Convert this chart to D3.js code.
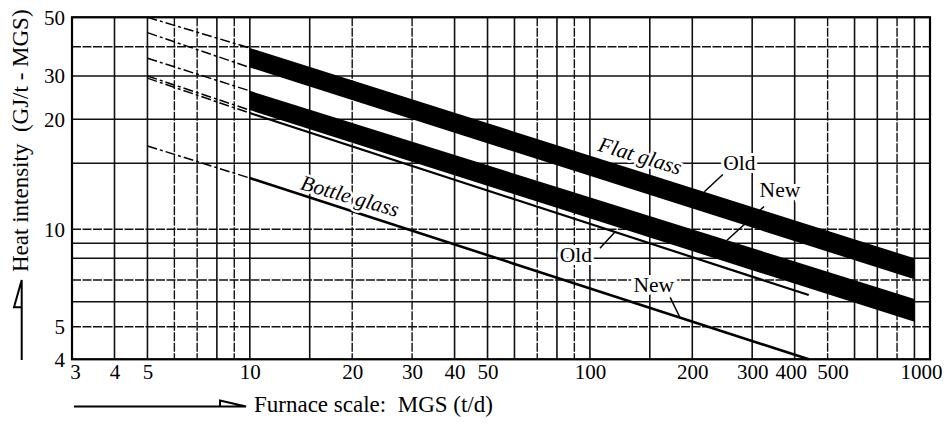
<!DOCTYPE html>
<html>
<head>
<meta charset="utf-8">
<script src="https://cdn.jsdelivr.net/npm/d3@7"></script>
<style>
  html, body { margin: 0; padding: 0; background: #fff; }
  svg text { font-family: "Liberation Serif", "Times New Roman", serif; fill: #000; }
</style>
</head>
<body>
<svg id="chart" width="950" height="424"></svg>
<script>
// ---- axis rules and labels ----
const xGrid  = [4, 5, 6, 7, 8, 9, 10, 15, 20, 30, 40, 50, 60, 70, 80, 90, 100, 150, 200, 300, 400, 500, 600, 700, 800, 900, 1000];
const xTicks = [3, 4, 5, 10, 20, 30, 40, 50, 100, 200, 300, 400, 500, 1000];
const yGrid  = [50, 40, 30, 20, 15, 10, 9, 8, 7, 6, 5, 4];
const yTicks = [50, 30, 20, 10, 5, 4];
// rules that are printed as broken lines
const xBroken = [6, 7, 9, 20, 30, 70, 90, 500, 800];
const yBroken = [40, 10, 7, 5];
// small sideways shifts of crowded tick labels (px)
const xTickShift = { 3: 3, 400: -4, 500: 5, 1000: -9 };

// ---- curves: [MGS t/d, GJ/t-MGS] at 5 t/d, 10 t/d and the end of the curve ----
const flatOldUpper = [[5, 50],   [10, 39.5], [900, 8.0]];
const flatOldLower = [[5, 44.5], [10, 32.6], [900, 7.03]];
const flatNewUpper = [[5, 35.7], [10, 26.1], [900, 6.12]];
const flatNewLower = [[5, 30],   [10, 21.8], [900, 5.18]];
const bottleOld    = [[5, 29.4], [10, 21.2], [440, 6.29]];
const bottleNew    = [[5, 16.8], [10, 13.7], [440, 4.0]];

// ---- annotation labels (text centre, leader start, leader end on a curve) ----
const leaderLabels = [
  { text: "Old", at: [275, 15],   from: [246, 14],   toX: 217,   curve: flatOldUpper },
  { text: "New", at: [362, 12.7], from: [325, 11.5], toX: 253,   curve: flatNewUpper },
  { text: "Old", at: [91, 8.2],   from: [107, 8.65], toX: 118.5, curve: bottleOld },
  { text: "New", at: [154, 6.76], from: [172, 6.2],  toX: 184,   curve: bottleNew }
];
const curveLabels = [
  { text: "Flat glass",   at: [105, 16.3], angle: 16.5 },
  { text: "Bottle glass", at: [14, 12.8],  angle: 16 }
];

// ---- scales ----
const svg = d3.select("#chart");
const x = d3.scaleLog().domain([3, 1000]).range([72, 930]);
// the printed value axis is not evenly divided, so the log scale is pinned at every rule
const y = d3.scaleLog()
  .domain(yGrid)
  .range([17.3, 46.7, 76, 119.3, 163.3, 229.3, 243.3, 258.3, 280, 301.7, 326.7, 359.3]);

const x0 = x(3), x1 = x(1000), yTop = y(50), yBot = y(4);
const fs = 21;

// ---- grid ----
const grid = svg.append("g").attr("stroke", "#111").attr("fill", "none");
grid.selectAll("line.v").data(xGrid).join("line")
  .attr("class", "v")
  .attr("x1", d => x(d)).attr("x2", d => x(d))
  .attr("y1", yTop).attr("y2", yBot)
  .attr("stroke-width", d => xBroken.includes(d) ? 1.4 : 1.6)
  .attr("stroke-dasharray", d => xBroken.includes(d) ? "9,1.5" : null);
grid.selectAll("line.h").data(yGrid).join("line")
  .attr("class", "h")
  .attr("x1", x0).attr("x2", x1)
  .attr("y1", d => y(d)).attr("y2", d => y(d))
  .attr("stroke-width", d => yBroken.includes(d) ? 1.4 : 1.6)
  .attr("stroke-dasharray", d => yBroken.includes(d) ? "9,1.5" : null);

svg.append("rect")
  .attr("x", x0).attr("y", yTop)
  .attr("width", x1 - x0).attr("height", yBot - yTop)
  .attr("fill", "none").attr("stroke", "#000").attr("stroke-width", 2.2);

// ---- curves ----
const plotLine = d3.line().x(d => x(d[0])).y(d => y(d[1]));
const marks = svg.append("g");

// dashed extrapolation between 5 and 10 t/d
[flatOldUpper, flatOldLower, flatNewUpper, flatNewLower, bottleOld, bottleNew].forEach(c => {
  marks.append("path")
    .attr("d", plotLine(c.slice(0, 2)))
    .attr("fill", "none").attr("stroke", "#000")
    .attr("stroke-width", 1.5)
    .attr("stroke-dasharray", "10,3,3,3");
});

// filled bands from 10 t/d onwards
const band = d3.area()
  .x(d => x(d.x))
  .y0(d => y(d.lo))
  .y1(d => y(d.hi));
[[flatOldUpper, flatOldLower], [flatNewUpper, flatNewLower]].forEach(([hi, lo]) => {
  const rows = [1, 2].map(i => ({ x: hi[i][0], hi: hi[i][1], lo: lo[i][1] }));
  marks.append("path").attr("d", band(rows)).attr("fill", "#000");
});

// bottle glass lines
marks.append("path").attr("d", plotLine(bottleOld.slice(1)))
  .attr("fill", "none").attr("stroke", "#000").attr("stroke-width", 2.2);
marks.append("path").attr("d", plotLine(bottleNew.slice(1)))
  .attr("fill", "none").attr("stroke", "#000").attr("stroke-width", 2.6);

// ---- annotations ----
function curveY(curve, xv) {
  const px = x(xv);
  for (let i = 0; i < curve.length - 1; i++) {
    const xa = x(curve[i][0]), xb = x(curve[i + 1][0]);
    if (px >= xa && px <= xb) {
      const t = (px - xa) / (xb - xa);
      return y(curve[i][1]) + (y(curve[i + 1][1]) - y(curve[i][1])) * t;
    }
  }
  return y(curve[curve.length - 1][1]);
}

const ann = svg.append("g");
leaderLabels.forEach(l => {
  ann.append("line")
    .attr("x1", x(l.from[0])).attr("y1", y(l.from[1]))
    .attr("x2", x(l.toX)).attr("y2", curveY(l.curve, l.toX))
    .attr("stroke", "#000").attr("stroke-width", 1.5);
  ann.append("text")
    .attr("x", x(l.at[0])).attr("y", y(l.at[1]))
    .attr("text-anchor", "middle").attr("dominant-baseline", "central")
    .attr("font-size", 21.5)
    .attr("stroke", "#fff").attr("stroke-width", 6).attr("paint-order", "stroke")
    .text(l.text);
});
curveLabels.forEach(l => {
  ann.append("text")
    .attr("transform", `translate(${x(l.at[0])},${y(l.at[1])}) rotate(${l.angle})`)
    .attr("font-size", 21.5).attr("font-style", "italic")
    .attr("stroke", "#fff").attr("stroke-width", 5).attr("paint-order", "stroke")
    .text(l.text);
});

// ---- axes ----
const xAxis = svg.append("g")
  .attr("transform", `translate(0,${yBot})`)
  .call(d3.axisBottom(x).tickValues(xTicks).tickSize(0).tickPadding(5).tickFormat(d3.format("d")));
xAxis.selectAll(".tick text").attr("dx", d => xTickShift[d] || 0);
const yAxis = svg.append("g")
  .attr("transform", `translate(${x0},0)`)
  .call(d3.axisLeft(y).tickValues(yTicks).tickSize(0).tickPadding(7).tickFormat(d3.format("d")));
[xAxis, yAxis].forEach(a => {
  a.select(".domain").remove();
  a.selectAll("text").attr("font-size", fs)
    .style("font-family", "'Liberation Serif', 'Times New Roman', serif").attr("fill", "#000");
});

// ---- axis titles with half-headed arrows ----
svg.append("text")
  .attr("transform", "translate(28,272) rotate(-90)")
  .attr("font-size", 23)
  .text("Heat intensity\u00a0 (GJ/t - MGS)");
svg.append("path")
  .attr("d", "M21.7,360 L21.7,280 L14,307.3 L21.7,307.3")
  .attr("fill", "none").attr("stroke", "#000").attr("stroke-width", 2);

svg.append("text")
  .attr("x", 254).attr("y", 412)
  .attr("font-size", 23)
  .text("Furnace scale:\u00a0 MGS (t/d)");
svg.append("path")
  .attr("d", "M74,406.5 L246,406.5 L220,400.5 L220,406.5")
  .attr("fill", "none").attr("stroke", "#000").attr("stroke-width", 2);
</script>
</body>
</html>
